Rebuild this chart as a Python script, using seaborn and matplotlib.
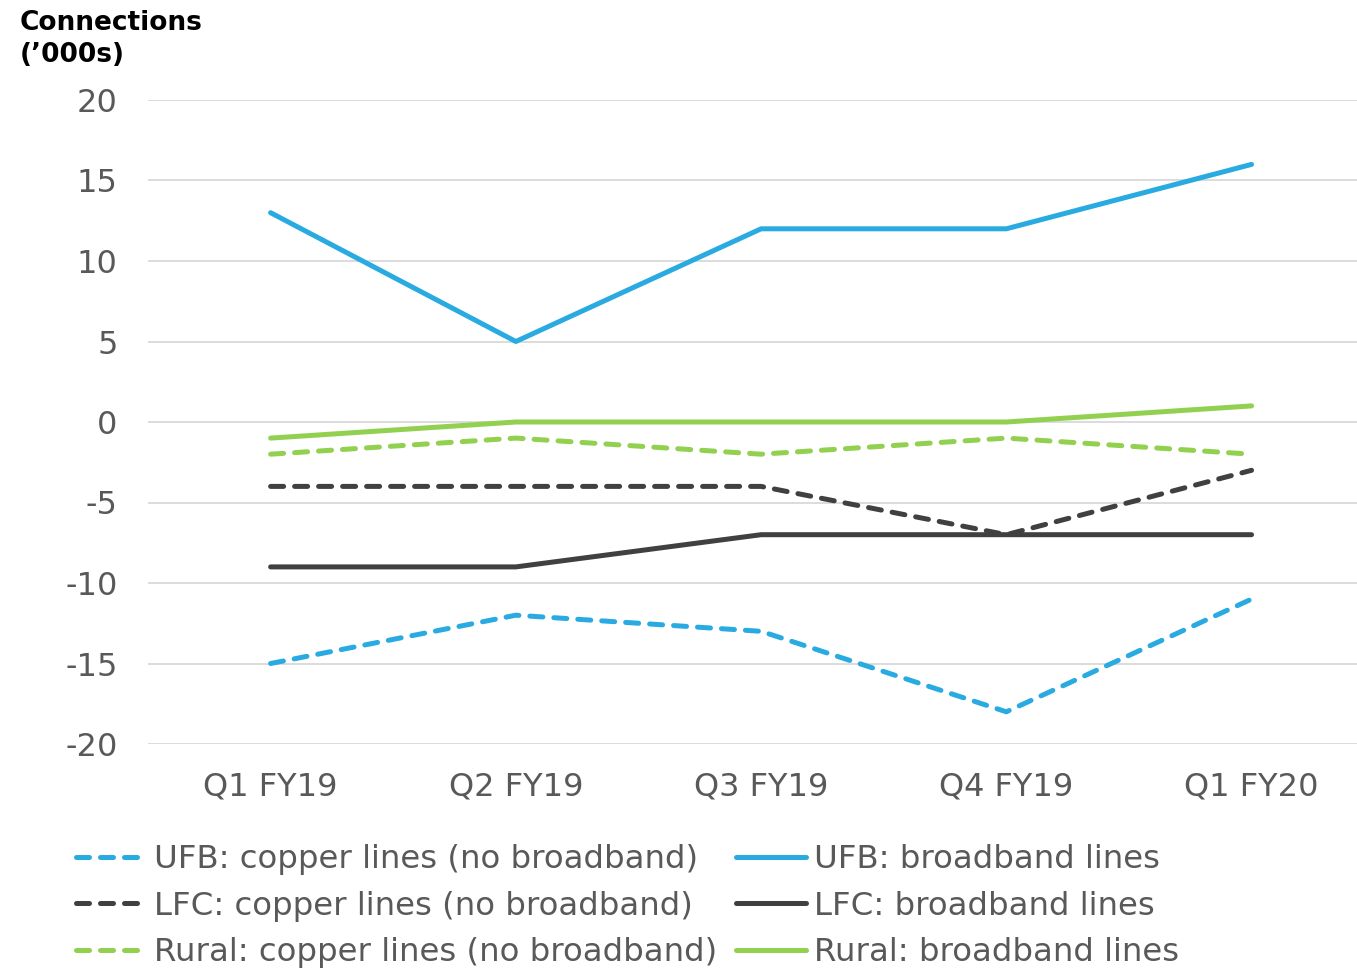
import matplotlib
matplotlib.use("Agg")
import matplotlib.pyplot as plt
import seaborn as sns
import pandas as pd

# --- data ---
quarters = ["Q1 FY19", "Q2 FY19", "Q3 FY19", "Q4 FY19", "Q1 FY20"]
ufb_copper = [-15, -12, -13, -18, -11]
lfc_copper = [-4, -4, -4, -7, -3]
rural_copper = [-2, -1, -2, -1, -2]
ufb_broadband = [13, 5, 12, 12, 16]
lfc_broadband = [-9, -9, -7, -7, -7]
rural_broadband = [-1, 0, 0, 0, 1]
y_ticks = [-20, -15, -10, -5, 0, 5, 10, 15, 20]

BLUE = "#29ABE2"
DARK = "#404040"
GREEN = "#92D050"

series = [
    ("UFB: copper lines (no broadband)", ufb_copper, BLUE, True),
    ("LFC: copper lines (no broadband)", lfc_copper, DARK, True),
    ("Rural: copper lines (no broadband)", rural_copper, GREEN, True),
    ("UFB: broadband lines", ufb_broadband, BLUE, False),
    ("LFC: broadband lines", lfc_broadband, DARK, False),
    ("Rural: broadband lines", rural_broadband, GREEN, False),
]

sns.set_style("white")
plt.rcParams["font.family"] = ["DejaVu Sans"]

fig = plt.figure(figsize=(13.57, 9.69), dpi=100)
ax = fig.add_axes([148 / 1357, 1 - 744 / 969, 1 - 148 / 1357, (744 - 100) / 969])

handles = []
for label, values, color, dashed in series:
    df = pd.DataFrame({"quarter": quarters, "value": values})
    sns.lineplot(data=df, x="quarter", y="value", ax=ax, color=color,
                 linewidth=3.6, sort=False, label=label, legend=False)
    line = ax.lines[-1]
    if dashed:
        line.set_dashes((2.6, 2.2))
        line.set_dash_capstyle("round")
    line.set_solid_capstyle("round")
    handles.append(line)

ax.set_ylim(-20, 20)
ax.set_yticks(y_ticks)
ax.set_yticklabels([str(t) for t in y_ticks])
ax.set_xlim(-0.5, 4.43)
ax.set_xlabel("")
ax.set_ylabel("")
ax.grid(axis="y", color="#D9D9D9", linewidth=1.3)
ax.set_axisbelow(True)
for s in ax.spines.values():
    s.set_visible(False)
ax.tick_params(axis="y", length=0, pad=22, labelsize=23, labelcolor="#595959")
ax.tick_params(axis="x", length=0, pad=20, labelsize=23, labelcolor="#595959")

fig.text(20 / 1357, 1 - 10 / 969, "Connections\n(\u2019000s)", fontsize=19,
         fontweight="bold", color="black", va="top", ha="left", linespacing=1.3)

fig.legend(handles=handles, labels=[s[0] for s in series], ncol=2,
           loc="upper left", bbox_to_anchor=(76 / 1357, 1 - 844 / 969),
           frameon=False, fontsize=23.3, handlelength=2.15, handletextpad=0.25,
           columnspacing=0.6, labelspacing=0.48, borderpad=0, borderaxespad=0,
           labelcolor="#595959")

fig.savefig("out.png", dpi=100)
